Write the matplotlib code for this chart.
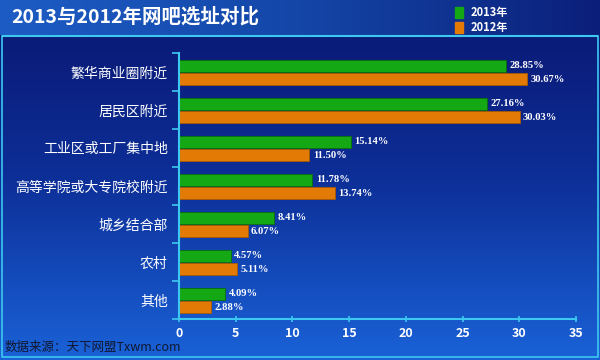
import numpy as np
import matplotlib.pyplot as plt
from matplotlib.colors import LinearSegmentedColormap

plt.rcParams['font.family'] = ['Noto Sans CJK SC', 'DejaVu Sans']

# ----------------------------
# Data
# ----------------------------
categories = ["繁华商业圈附近", "居民区附近", "工业区或工厂集中地", "高等学院或大专院校附近",
              "城乡结合部", "农村", "其他"]
share_2013 = [28.85, 27.16, 15.14, 11.78, 8.41, 4.57, 4.09]
share_2012 = [30.67, 30.03, 11.50, 13.74, 6.07, 5.11, 2.88]
x_ticks = [0, 5, 10, 15, 20, 25, 30, 35]

GREEN = "#14a814"
ORANGE = "#e27a05"

fig = plt.figure(figsize=(6, 3.6), dpi=100)

# background gradient
bg = fig.add_axes([0, 0, 1, 1], zorder=0)
bg.set_axis_off()
grad = np.linspace(0, 1, 256).reshape(-1, 1)
bg_cmap = LinearSegmentedColormap.from_list("bg", ["#0a1670", "#0d2f98", "#1a62d8"])
bg.imshow(grad, aspect="auto", cmap=bg_cmap, extent=[0, 1, 0, 1], origin="upper")
# title band
band = np.linspace(0, 1, 256).reshape(1, -1)
band_cmap = LinearSegmentedColormap.from_list("band", ["#1d5cc4", "#1446a8", "#0b1f7a"])
bg.imshow(band, aspect="auto", cmap=band_cmap, extent=[0, 1, 1 - 35 / 360, 1])
bg.plot([0.005, 0.995], [1 - 36 / 360, 1 - 36 / 360], color="#3cc8f0", lw=1.5)
bg.plot([0.004, 0.004, 0.996, 0.996], [1 - 36 / 360, 0.008, 0.008, 1 - 36 / 360],
        color="#3cc8f0", lw=1.2)
bg.set_xlim(0, 1)
bg.set_ylim(0, 1)

fig.text(0.018, 0.955, "2013与2012年网吧选址对比", color="white", fontsize=14,
         fontweight="bold", va="center", ha="left")

# legend squares
fig.patches.append(plt.Rectangle((0.758, 0.950), 0.013, 0.030, color=GREEN,
                                 transform=fig.transFigure, figure=fig))
fig.patches.append(plt.Rectangle((0.758, 0.909), 0.013, 0.030, color=ORANGE,
                                 transform=fig.transFigure, figure=fig))
fig.text(0.785, 0.965, "2013年", color="white", fontsize=8, fontweight="bold", va="center")
fig.text(0.785, 0.923, "2012年", color="white", fontsize=8, fontweight="bold", va="center")

# ----------------------------
# Bars
# ----------------------------
ax = fig.add_axes([0.298, 0.114, 0.662, 0.739], zorder=1)
ax.patch.set_alpha(0)
pos = np.arange(len(categories))
h = 0.31
ax.barh(pos + 0.34, share_2013, height=h, color=GREEN, edgecolor="#0b6e0b", lw=0.6)
ax.barh(pos + 0.69, share_2012, height=h, color=ORANGE, edgecolor="#a85a00", lw=0.6)

for i, (a, b) in enumerate(zip(share_2013, share_2012)):
    ax.text(a + 0.3, i + 0.34, f"{a:.2f}%", color="white", fontsize=7.6,
            fontweight="bold", family="Liberation Serif", va="center")
    ax.text(b + 0.3, i + 0.69, f"{b:.2f}%", color="white", fontsize=7.6,
            fontweight="bold", family="Liberation Serif", va="center")

ax.set_ylim(len(categories), 0)
ax.set_xlim(0, 35)
ax.set_yticks(np.arange(len(categories) + 1))
ax.set_yticklabels([])
ax.set_yticks(pos + 0.5, minor=True)
ax.set_yticklabels(categories, minor=True, color="white", fontsize=10)
ax.tick_params(axis="y", which="minor", length=0, pad=8)
ax.tick_params(axis="y", which="major", length=5, color="#3cc8f0", width=1.2)
ax.set_xticks(x_ticks)
ax.set_xticklabels([str(t) for t in x_ticks], color="white", fontsize=9, fontweight="bold")
ax.tick_params(axis="x", length=4, color="#3cc8f0", width=1.2, direction="inout")
for side in ["top", "right"]:
    ax.spines[side].set_visible(False)
for side in ["left", "bottom"]:
    ax.spines[side].set_color("#3cc8f0")
    ax.spines[side].set_linewidth(1.5)

fig.text(0.008, 0.035, "数据来源：天下网盟Txwm.com", color="#101830", fontsize=9,
         va="center", ha="left")

fig.savefig("out.png", dpi=100)
